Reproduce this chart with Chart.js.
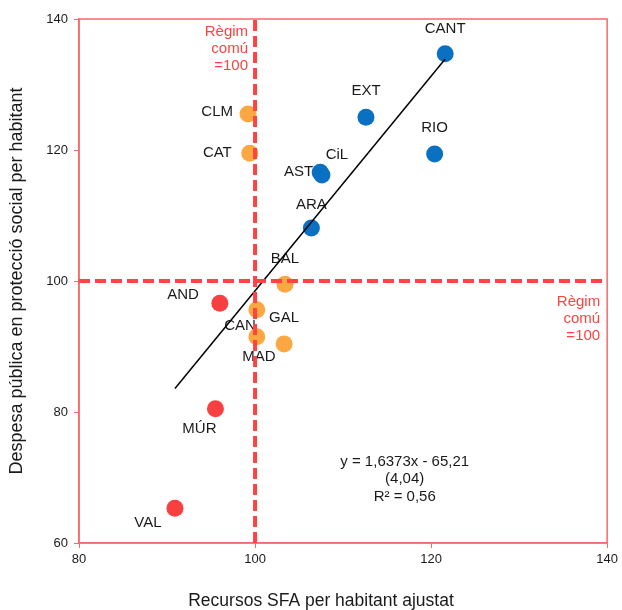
<!DOCTYPE html>
<html lang="ca">
<head>
<meta charset="UTF-8">
<title>Recursos SFA i despesa en protecció social</title>
<script src="https://cdn.jsdelivr.net/npm/chart.js"></script>
<style>
    body {
        margin: 0;
        background: #fff;
    }
</style>
</head>
<body>
<canvas id="chart" width="622" height="610"></canvas>
<script>
    // comunitats per sobre de la mitjana en les dues variables
    const blueNames = ["CANT", "EXT", "RIO", "CiL", "AST", "ARA"];
    const blueX = [121.6, 112.6, 120.4, 107.6, 107.4, 106.4];
    const blueY = [134.7, 125.0, 119.4, 116.2, 116.6, 108.1];
    // comunitats en quadrants mixtos
    const orangeNames = ["CLM", "CAT", "BAL", "GAL", "CAN", "MAD"];
    const orangeX = [99.2, 99.4, 103.4, 103.3, 100.2, 100.2];
    const orangeY = [125.5, 119.5, 99.5, 90.4, 95.6, 91.5];
    // per sota en les dues
    const redNames = ["AND", "MÚR", "VAL"];
    const redX = [96.0, 95.5, 90.9];
    const redY = [96.6, 80.5, 65.3];
    // extrems de la recta de regressió llegits del gràfic
    const trendX = [90.9, 121.6];
    const trendY = [83.6, 133.9];
    const refValue = 100;
    const xTicks = [80, 100, 120, 140];
    const yTicks = [60, 80, 100, 120, 140];
    const equationLines = ["y = 1,6373x - 65,21", "(4,04)", "R² = 0,56"];
    const refLabel = ["Règim", "comú", "=100"];
    const xTitle = "Recursos SFA per habitant ajustat";
    const yTitle = "Despesa pública en protecció social per habitant";

    const FONT = "'Liberation Sans', Arial, sans-serif";
    const RED = "#FF4242";
    const FRAME = "#F26B6B";
    const TEXT = "#1a1a1a";

    function toPoints(xs, ys) {
        return xs.map((x, i) => ({x: x, y: ys[i]}));
    }

    // on va cada etiqueta respecte al seu punt
    const labelPlace = {
        CANT: [0, -25, "center"], EXT: [0, -26, "center"], RIO: [0, -26, "center"],
        CiL: [15, -20, "center"], AST: [-7, 0, "right"], ARA: [0, -23, "center"],
        CLM: [-15, -2, "right"], CAT: [-18, 0, "right"], BAL: [0, -25, "center"],
        GAL: [0, -26, "center"], CAN: [-1, 16, "right"], MAD: [2, 20, "center"],
        AND: [-21, -8, "right"], "MÚR": [-16, 20, "center"], VAL: [-27, 15, "center"]
    };

    const textPlugin = {
        id: "textPlugin",
        beforeDatasetsDraw(chart) {
            const ctx = chart.ctx;
            const area = chart.chartArea;
            const xs = chart.scales.x, ys = chart.scales.y;
            ctx.save();
            // marc
            ctx.strokeStyle = FRAME;
            ctx.lineWidth = 1.5;
            ctx.strokeRect(area.left, area.top, area.right - area.left, area.bottom - area.top);

            // etiquetes dels punts
            ctx.font = "15px " + FONT;
            ctx.fillStyle = TEXT;
            ctx.textBaseline = "middle";
            const groups = [[blueNames, blueX, blueY], [orangeNames, orangeX, orangeY], [redNames, redX, redY]];
            groups.forEach(([names, gx, gy]) => {
                names.forEach((name, i) => {
                    const p = labelPlace[name];
                    ctx.textAlign = p[2];
                    ctx.fillText(name, xs.getPixelForValue(gx[i]) + p[0], ys.getPixelForValue(gy[i]) + p[1]);
                });
            });

            // Règim comú
            ctx.fillStyle = RED;
            ctx.textAlign = "right";
            const vx = xs.getPixelForValue(refValue);
            const hy = ys.getPixelForValue(refValue);
            refLabel.forEach((t, i) => {
                ctx.fillText(t, vx - 7, area.top + 13 + i * 17);
                ctx.fillText(t, area.right - 7, hy + 21 + i * 17);
            });

            // equació
            ctx.fillStyle = TEXT;
            ctx.textAlign = "center";
            const ex = xs.getPixelForValue(117);
            const ey = ys.getPixelForValue(72.4);
            equationLines.forEach((t, i) => ctx.fillText(t, ex, ey + i * 17.5));

            // títol de l'eix x, centrat a tota la figura
            ctx.font = "17.5px " + FONT;
            ctx.fillText(xTitle, chart.width / 2 + 10, 601);
            ctx.restore();
        }
    };

    const pointStyle = {pointRadius: 8.5, pointHoverRadius: 8.5, borderWidth: 0, order: 3};

    new Chart(document.getElementById("chart"), {
        type: "scatter",
        data: {
            datasets: [
                Object.assign({data: toPoints(blueX, blueY), backgroundColor: "#0A70C2"}, pointStyle),
                Object.assign({data: toPoints(orangeX, orangeY), backgroundColor: "#FBA843"}, pointStyle),
                Object.assign({data: toPoints(redX, redY), backgroundColor: "#F94040"}, pointStyle),
                {
                    data: toPoints(trendX, trendY), showLine: true, pointRadius: 0,
                    borderColor: "#000", borderWidth: 1.5, order: 2
                },
                {
                    data: [{x: refValue, y: yTicks[0]}, {x: refValue, y: yTicks[yTicks.length - 1]}],
                    showLine: true, pointRadius: 0, borderColor: RED, borderWidth: 4,
                    borderDash: [11, 5], order: 1
                },
                {
                    data: [{x: xTicks[0], y: refValue}, {x: xTicks[xTicks.length - 1], y: refValue}],
                    showLine: true, pointRadius: 0, borderColor: RED, borderWidth: 4,
                    borderDash: [11, 5], order: 1
                }
            ]
        },
        options: {
            responsive: false,
            animation: false,
            layout: {padding: {top: 19, right: 13, left: 0, bottom: 0}},
            plugins: {legend: {display: false}, tooltip: {enabled: false}},
            scales: {
                x: {
                    min: xTicks[0], max: xTicks[xTicks.length - 1],
                    afterBuildTicks: s => { s.ticks = xTicks.map(v => ({value: v})); },
                    afterFit: s => { s.height = 67; },
                    ticks: {font: {family: FONT, size: 13}, color: TEXT, padding: 4},
                    grid: {drawOnChartArea: false, tickLength: 5, color: FRAME},
                    border: {color: FRAME, width: 1.5},
                    title: {display: false}
                },
                y: {
                    min: yTicks[0], max: yTicks[yTicks.length - 1],
                    afterBuildTicks: s => { s.ticks = yTicks.map(v => ({value: v})); },
                    afterFit: s => { s.width = 79; },
                    ticks: {font: {family: FONT, size: 13}, color: TEXT, padding: 6},
                    grid: {drawOnChartArea: false, tickLength: 5, color: FRAME},
                    border: {color: FRAME, width: 1.5},
                    title: {
                        display: true, text: yTitle,
                        font: {family: FONT, size: 18}, color: TEXT, padding: {top: 6, bottom: 0}
                    }
                }
            }
        },
        plugins: [textPlugin]
    });
</script>
</body>
</html>
